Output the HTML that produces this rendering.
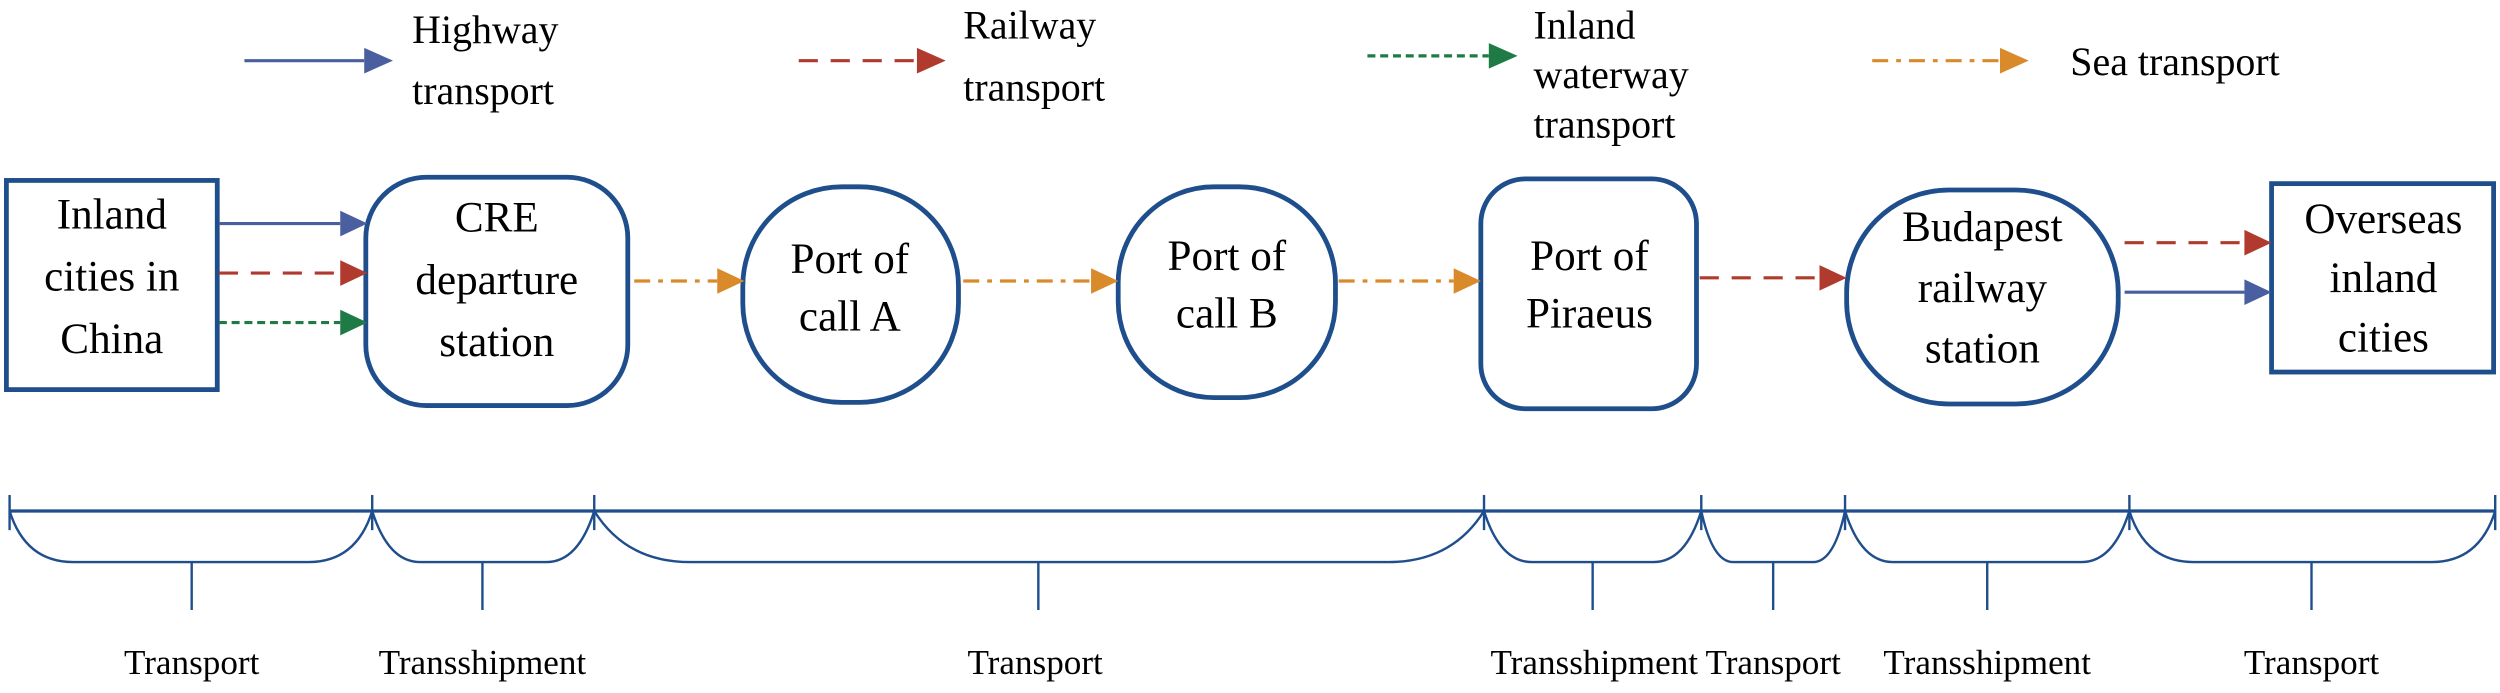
<!DOCTYPE html>
<html><head><meta charset="utf-8"><style>
html,body{margin:0;padding:0;background:#fff;}
svg{display:block;}
text{font-family:"Liberation Serif",serif;fill:#000;}
</style></head><body>
<svg width="2500" height="693" viewBox="0 0 1565 434" preserveAspectRatio="none" xmlns="http://www.w3.org/2000/svg">
<g stroke-width="2">
<line x1="153" y1="38" x2="228" y2="38" stroke="#4a5fa0"/><path d="M228,30 L246,38 L228,46z" fill="#4a5fa0"/>
<line x1="500" y1="38" x2="574" y2="38" stroke="#b03a2e" stroke-dasharray="12,8"/><path d="M574,30 L592,38 L574,46z" fill="#b03a2e"/>
<line x1="856" y1="35" x2="932" y2="35" stroke="#1e7b45" stroke-dasharray="5,3"/><path d="M932,27 L950,35 L932,43z" fill="#1e7b45"/>
<line x1="1172" y1="38" x2="1252" y2="38" stroke="#d98a2b" stroke-dasharray="10,5,3,5"/><path d="M1252,30 L1270,38 L1252,46z" fill="#d98a2b"/>
</g>
<g font-size="25">
<text x="258" y="27">Highway</text><text x="258" y="65">transport</text>
<text x="603" y="24">Railway</text><text x="603" y="63">transport</text>
<text x="960" y="24">Inland</text><text x="960" y="55">waterway</text><text x="960" y="86">transport</text>
<text x="1296" y="47">Sea transport</text>
</g>
<g fill="none" stroke="#1f4e8c" stroke-width="3">
<rect x="4" y="113" width="132" height="131"/>
<rect x="229" y="111" width="164" height="143" rx="38"/>
<rect x="465" y="117" width="135" height="135" rx="62"/>
<rect x="700" y="117" width="136" height="132" rx="60"/>
<rect x="927" y="112" width="135" height="144" rx="28"/>
<rect x="1156" y="119" width="170" height="134" rx="64"/>
<rect x="1422" y="115" width="139" height="118"/>
</g>
<g font-size="27" text-anchor="middle">
<text x="70" y="143">Inland</text><text x="70" y="182">cities in</text><text x="70" y="221">China</text>
<text x="311" y="145">CRE</text><text x="311" y="184">departure</text><text x="311" y="223">station</text>
<text x="532" y="171">Port of</text><text x="532" y="207">call A</text>
<text x="768" y="169">Port of</text><text x="768" y="205">call B</text>
<text x="995" y="169">Port of</text><text x="995" y="205">Piraeus</text>
<text x="1241" y="151">Budapest</text><text x="1241" y="189">railway</text><text x="1241" y="227">station</text>
<text x="1492" y="146">Overseas</text><text x="1492" y="183">inland</text><text x="1492" y="220">cities</text>
</g>
<g stroke-width="2">
<line x1="137" y1="140" x2="213" y2="140" stroke="#4a5fa0"/><path d="M213,132 L230,140 L213,148z" fill="#4a5fa0"/>
<line x1="137" y1="171" x2="213" y2="171" stroke="#b03a2e" stroke-dasharray="12,8"/><path d="M213,163 L230,171 L213,179z" fill="#b03a2e"/>
<line x1="137" y1="202" x2="213" y2="202" stroke="#1e7b45" stroke-dasharray="5,3"/><path d="M213,194 L230,202 L213,210z" fill="#1e7b45"/>
<line x1="397" y1="176" x2="449" y2="176" stroke="#d98a2b" stroke-dasharray="10,5,3,5"/><path d="M449,168 L466,176 L449,184z" fill="#d98a2b"/>
<line x1="603" y1="176" x2="683" y2="176" stroke="#d98a2b" stroke-dasharray="10,5,3,5"/><path d="M683,168 L700,176 L683,184z" fill="#d98a2b"/>
<line x1="838" y1="176" x2="910" y2="176" stroke="#d98a2b" stroke-dasharray="10,5,3,5"/><path d="M910,168 L927,176 L910,184z" fill="#d98a2b"/>
<line x1="1064" y1="174" x2="1139" y2="174" stroke="#b03a2e" stroke-dasharray="12,8"/><path d="M1139,166 L1156,174 L1139,182z" fill="#b03a2e"/>
<line x1="1330" y1="152" x2="1405" y2="152" stroke="#b03a2e" stroke-dasharray="12,8"/><path d="M1405,144 L1422,152 L1405,160z" fill="#b03a2e"/>
<line x1="1330" y1="183" x2="1405" y2="183" stroke="#4a5fa0"/><path d="M1405,175 L1422,183 L1405,191z" fill="#4a5fa0"/>
</g>
<g stroke="#1f4e8c" stroke-width="1.5" fill="none">
<line x1="6" y1="320" x2="1562" y2="320" stroke-width="2"/>
<line x1="6" y1="310" x2="6" y2="332"/><line x1="233" y1="310" x2="233" y2="332"/><line x1="372" y1="310" x2="372" y2="332"/><line x1="929" y1="310" x2="929" y2="332"/><line x1="1065" y1="310" x2="1065" y2="332"/><line x1="1155" y1="310" x2="1155" y2="332"/><line x1="1333" y1="310" x2="1333" y2="332"/><line x1="1562" y1="310" x2="1562" y2="332"/>
<path d="M6,320 Q16,352 46,352 L193,352 Q223,352 233,320 M120,352 V382"/>
<path d="M233,320 Q243,352 263,352 L342,352 Q362,352 372,320 M302,352 V382"/>
<path d="M372,320 Q392,352 432,352 L869,352 Q909,352 929,320 M650,352 V382"/>
<path d="M929,320 Q939,352 959,352 L1035,352 Q1055,352 1065,320 M997,352 V382"/>
<path d="M1065,320 Q1072,352 1085,352 L1135,352 Q1148,352 1155,320 M1110,352 V382"/>
<path d="M1155,320 Q1165,352 1185,352 L1303,352 Q1323,352 1333,320 M1244,352 V382"/>
<path d="M1333,320 Q1343,352 1373,352 L1522,352 Q1552,352 1562,320 M1447,352 V382"/>
</g>
<g font-size="22" text-anchor="middle">
<text x="120" y="422">Transport</text>
<text x="302" y="422">Transshipment</text>
<text x="648" y="422">Transport</text>
<text x="998" y="422">Transshipment</text>
<text x="1110" y="422">Transport</text>
<text x="1244" y="422">Transshipment</text>
<text x="1447" y="422">Transport</text>
</g>
</svg>
</body></html>
